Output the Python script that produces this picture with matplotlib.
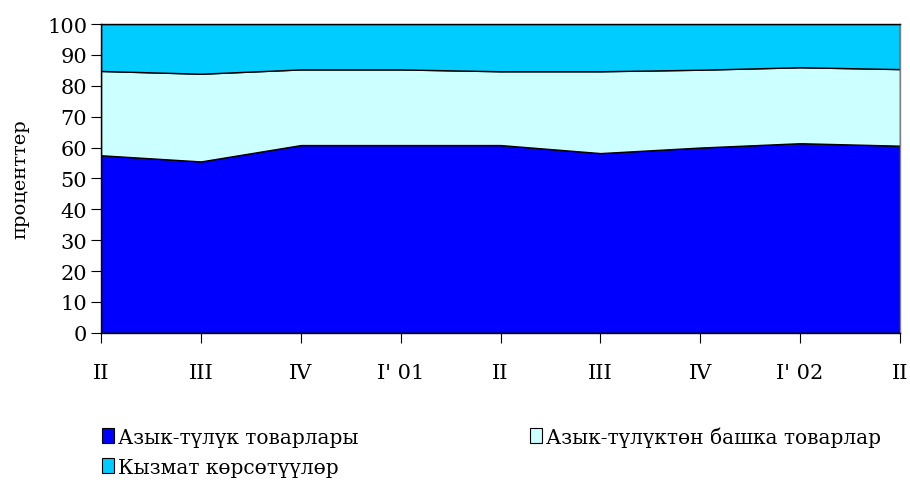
import numpy as np
import matplotlib
matplotlib.use('Agg')
import matplotlib.pyplot as plt
import matplotlib.patches as mpatches

# ── DATA (shares, %) ─────────────────────────────────────────────
quarters = ["II", "III", "IV", "I' 01", "II", "III", "IV", "I' 02", "II"]
food     = [57.5, 55.5, 60.8, 60.8, 60.8, 58.2, 60.0, 61.4, 60.6]
nonfood  = [27.3, 28.4, 24.5, 24.5, 23.9, 26.5, 25.2, 24.6, 24.8]
services = [15.2, 16.1, 14.7, 14.7, 15.3, 15.3, 14.8, 14.0, 14.6]

labels = ["Азык-түлүк товарлары", "Азык-түлүктөн башка товарлар",
          "Кызмат көрсөтүүлөр"]
colors = ["#0000ff", "#ccffff", "#00ccff"]

plt.rcParams['font.family'] = ['DejaVu Serif']

fig = plt.figure(figsize=(9.1, 4.81), dpi=100)
ax = fig.add_axes([0.111, 0.306, 0.878, 0.642])

x = np.arange(len(quarters))
ax.stackplot(x, food, nonfood, services, colors=colors,
             edgecolor='black', linewidth=1.0)

ax.set_xlim(0, len(quarters) - 1)
ax.set_ylim(0, 100)
ax.set_yticks(range(0, 101, 10))
ax.set_xticks(x)
ax.set_xticklabels(quarters)
ax.tick_params(axis='y', direction='out', length=7, labelsize=15, pad=3)
ax.tick_params(axis='x', direction='out', length=7, labelsize=15, pad=15)
for sp in ax.spines.values():
    sp.set_edgecolor('black')
    sp.set_linewidth(1.0)
ax.spines['right'].set_edgecolor('#808080')

ax.set_ylabel('проценттер', fontsize=14)
ax.yaxis.set_label_coords(-0.09, 0.5)

handles = [mpatches.Patch(facecolor=colors[0], edgecolor='black', lw=0.8, label=labels[0]),
           mpatches.Patch(facecolor=colors[2], edgecolor='black', lw=0.8, label=labels[2]),
           mpatches.Patch(facecolor=colors[1], edgecolor='black', lw=0.8, label=labels[1])]
fig.legend(handles=handles, loc='upper left', bbox_to_anchor=(0.112, 0.112),
           ncol=2, frameon=False, fontsize=14.5, handlelength=0.6,
           handleheight=0.75, handletextpad=0.2, columnspacing=8.5,
           labelspacing=0.55, borderaxespad=0, borderpad=0)

fig.savefig('out.png', dpi=100, facecolor='white')
